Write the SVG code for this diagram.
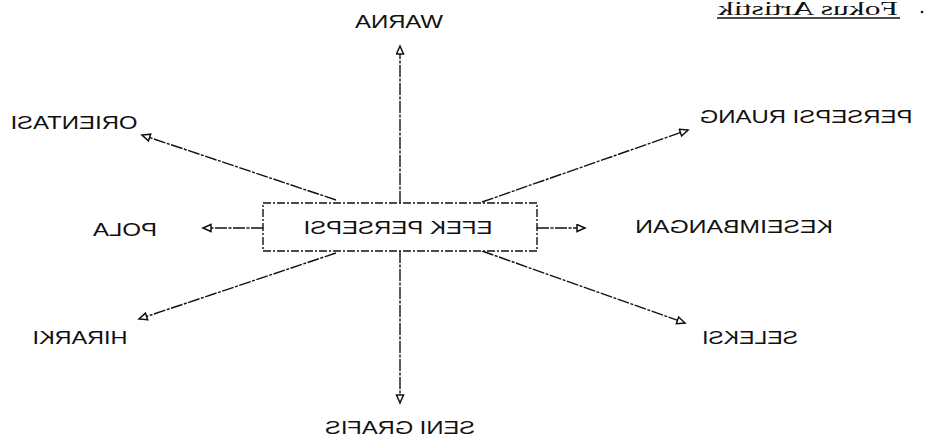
<svg xmlns="http://www.w3.org/2000/svg" width="927" height="442" viewBox="0 0 927 442">
  <style>
    .lbl { font-family: "Liberation Sans", Arial, sans-serif; font-size: 19px; fill: #111; text-anchor: middle; }
    .head { font-family: "Liberation Serif", "Times New Roman", serif; font-size: 18px; fill: #111; text-anchor: middle; }
    .conn { stroke: #111; stroke-width: 1.4; fill: none; stroke-dasharray: 12 1.5 3 1.5; }
    .box { stroke: #111; stroke-width: 1.4; fill: #fff; stroke-dasharray: 8 2 2 2; }
  </style>
  <defs>
    <marker id="tri" markerUnits="userSpaceOnUse" markerWidth="12" markerHeight="12" refX="9" refY="4.5" orient="auto">
      <path d="M1,1 L9,4.5 L1,8 Z" fill="#fff" stroke="#111" stroke-width="1.5"/>
    </marker>
  </defs>
  <rect width="927" height="442" fill="#fff"/>

  <!-- page header (mirrored print) -->
  <g id="header">
    <text class="head" transform="scale(-1,1)" x="-808" y="15" textLength="180" lengthAdjust="spacingAndGlyphs">Fokus Artistik</text>
    <line x1="717" y1="18" x2="900" y2="18" stroke="#111" stroke-width="1.5"/>
    <circle cx="922" cy="12" r="1.3" fill="#111"/>
  </g>

  <g id="connectors">
    <line class="conn" x1="400" y1="203" x2="400" y2="46" marker-end="url(#tri)"/>
    <line class="conn" x1="400" y1="251" x2="400" y2="403" marker-end="url(#tri)"/>
    <line class="conn" x1="263" y1="228" x2="203" y2="228" marker-end="url(#tri)"/>
    <line class="conn" x1="537" y1="228" x2="585" y2="228" marker-end="url(#tri)"/>
    <line class="conn" x1="336" y1="200" x2="142" y2="135" marker-end="url(#tri)"/>
    <line class="conn" x1="482" y1="202" x2="688" y2="130" marker-end="url(#tri)"/>
    <line class="conn" x1="336" y1="253" x2="139" y2="319" marker-end="url(#tri)"/>
    <line class="conn" x1="482" y1="251" x2="685" y2="323" marker-end="url(#tri)"/>
  </g>

  <g id="efek-persepsi">
    <rect class="box" x="263" y="203" width="274" height="48"/>
    <text class="lbl" transform="scale(-1,1)" x="-398" y="234" textLength="189" lengthAdjust="spacingAndGlyphs">EFEK PERSEPSI</text>
  </g>
  <g id="warna">
    <text class="lbl" transform="scale(-1,1)" x="-399" y="28" textLength="88" lengthAdjust="spacingAndGlyphs">WARNA</text>
  </g>
  <g id="seni-grafis">
    <text class="lbl" transform="scale(-1,1)" x="-400" y="434" textLength="150" lengthAdjust="spacingAndGlyphs">SENI GRAFIS</text>
  </g>
  <g id="orientasi">
    <text class="lbl" transform="scale(-1,1)" x="-74" y="129" textLength="127" lengthAdjust="spacingAndGlyphs">ORIENTASI</text>
  </g>
  <g id="persepsi-ruang">
    <text class="lbl" transform="scale(-1,1)" x="-806" y="123" textLength="213" lengthAdjust="spacingAndGlyphs">PERSEPSI RUANG</text>
  </g>
  <g id="pola">
    <text class="lbl" transform="scale(-1,1)" x="-125" y="236" textLength="64" lengthAdjust="spacingAndGlyphs">POLA</text>
  </g>
  <g id="keseimbangan">
    <text class="lbl" transform="scale(-1,1)" x="-734" y="233" textLength="198" lengthAdjust="spacingAndGlyphs">KESEIMBANGAN</text>
  </g>
  <g id="hirarki">
    <text class="lbl" transform="scale(-1,1)" x="-80" y="344" textLength="95" lengthAdjust="spacingAndGlyphs">HIRARKI</text>
  </g>
  <g id="seleksi">
    <text class="lbl" transform="scale(-1,1)" x="-750" y="344" textLength="96" lengthAdjust="spacingAndGlyphs">SELEKSI</text>
  </g>
</svg>
